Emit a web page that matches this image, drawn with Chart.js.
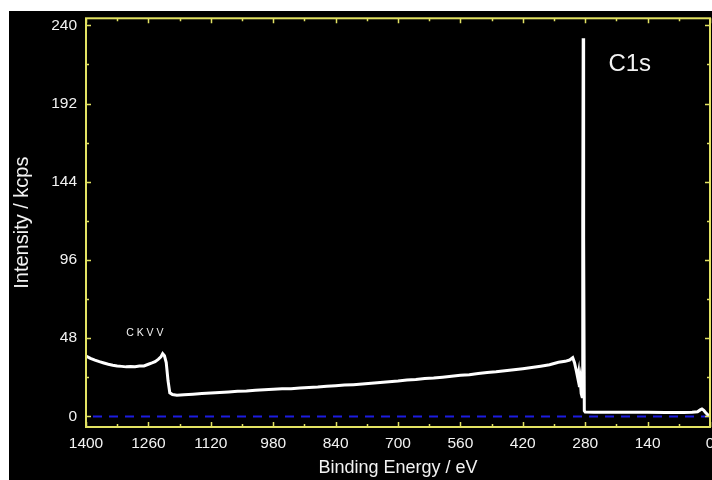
<!DOCTYPE html>
<html>
<head>
<meta charset="utf-8">
<script src="https://cdn.jsdelivr.net/npm/chart.js@4.4.1/dist/chart.umd.min.js"></script>
<style>
  html, body { margin: 0; padding: 0; background: #ffffff; overflow: hidden; width: 712px; height: 480px; }
  #frame { position: absolute; left: 9px; top: 11px; width: 760px; height: 480px; background: #000000; }
  #xps { position: absolute; left: 0; top: 0; }
</style>
</head>
<body>
<div id="frame"></div>
<canvas id="xps" width="740" height="480"></canvas>
<script>
// survey spectrum (binding energy in eV, intensity in kcps)
const energies = [
  1400, 1390, 1380, 1370, 1360, 1350, 1340, 1330, 1320, 1310,
  1300, 1290, 1280, 1270, 1260, 1252, 1245, 1238, 1232, 1228,
  1224, 1220, 1216, 1212, 1206, 1196, 1180, 1160, 1140, 1120,
  1100, 1080, 1060, 1040, 1020, 1000, 980, 960, 940, 920,
  900, 880, 860, 840, 820, 800, 780, 760, 740, 720,
  700, 680, 660, 640, 620, 600, 580, 560, 540, 520,
  500, 480, 460, 440, 420, 400, 380, 360, 340, 325,
  315, 308, 304, 300, 297, 295, 293, 291, 289, 287,
  285.5, 284.5, 283.5, 282, 280, 260, 220, 180, 140, 100,
  60, 40, 28, 22, 18, 14, 10, 5, 0
];
const counts = [
  37.0, 35.6, 34.5, 33.6, 32.8, 32.0, 31.4, 31.0, 30.7, 30.4,
  30.6, 30.5, 30.9, 31.0, 32.0, 32.8, 33.6, 35.0, 36.5, 38.5,
  37.2, 33.0, 22.0, 14.5, 13.4, 13.0, 13.3, 13.6, 14.0, 14.3,
  14.6, 15.0, 15.4, 15.6, 16.0, 16.3, 16.6, 16.9, 17.0, 17.4,
  17.8, 18.0, 18.5, 18.8, 19.2, 19.5, 19.9, 20.4, 20.8, 21.3,
  21.7, 22.3, 22.6, 23.2, 23.5, 24.1, 24.6, 25.2, 25.6, 26.3,
  27.0, 27.4, 28.0, 28.7, 29.3, 30.0, 30.8, 31.7, 33.2, 33.8,
  34.6, 36.0, 33.0, 28.0, 24.0, 27.0, 18.0, 22.0, 14.0, 12.0,
  120, 232, 110, 3.5, 2.7, 2.6, 2.6, 2.5, 2.5, 2.4,
  2.4, 2.5, 2.9, 4.0, 4.6, 3.8, 2.4, 1.0, 0.3
];

const xTicks = [1400, 1260, 1120, 980, 840, 700, 560, 420, 280, 140, 0];
const yTicks = [0, 48, 96, 144, 192, 240];
const zeroLine = [0, 0];
const zeroLineX = [0, 1400];

const peakLabels = ['C1s', 'C K V V'];
const peakLabelX = [180, 1268];
const peakLabelY = [216, 51];

const yellow = '#e2e262';
const textColor = '#f2f2f2';
const fontFamily = '"Liberation Sans", Arial, sans-serif';

// draws the yellow frame, inward ticks and the peak names
const framePlugin = {
  id: 'frame',
  afterDatasetsDraw(chart) {
    const { ctx, chartArea: a, scales } = chart;
    const xs = scales.x, ys = scales.y;
    ctx.save();
    ctx.strokeStyle = yellow;
    ctx.lineWidth = 2;
    ctx.strokeRect(a.left, a.top, a.right - a.left, a.bottom - a.top);

    const mids = (arr) => arr.slice(1).map((v, i) => (v + arr[i]) / 2);
    ctx.lineWidth = 1.5;
    ctx.beginPath();
    [[xTicks, 5], [mids(xTicks), 3]].forEach(([vals, len]) => {
      vals.forEach(v => {
        const px = Math.round(xs.getPixelForValue(v)) + 0.5;
        ctx.moveTo(px, a.bottom); ctx.lineTo(px, a.bottom - len);
        ctx.moveTo(px, a.top); ctx.lineTo(px, a.top + len);
      });
    });
    [[yTicks, 5], [mids(yTicks), 3]].forEach(([vals, len]) => {
      vals.forEach(v => {
        const py = Math.round(ys.getPixelForValue(v)) + 0.5;
        ctx.moveTo(a.left, py); ctx.lineTo(a.left + len, py);
        ctx.moveTo(a.right, py); ctx.lineTo(a.right - len, py);
      });
    });
    ctx.stroke();

    ctx.fillStyle = textColor;
    ctx.textAlign = 'center';
    ctx.textBaseline = 'middle';
    peakLabels.forEach((t, i) => {
      const big = i === 0;
      ctx.font = (big ? '24px ' : '10.5px ') + fontFamily;
      ctx.fillText(t, xs.getPixelForValue(peakLabelX[i]), ys.getPixelForValue(peakLabelY[i]));
    });
    ctx.restore();
  }
};

const ctx = document.getElementById('xps').getContext('2d');
new Chart(ctx, {
  type: 'line',
  data: {
    datasets: [
      {
        data: energies.map((e, i) => ({ x: e, y: counts[i] })),
        borderColor: '#ffffff',
        borderWidth: 3,
        pointRadius: 0,
        tension: 0,
      },
      {
        data: zeroLineX.map((e, i) => ({ x: e, y: zeroLine[i] })),
        borderColor: '#1c1ce0',
        borderWidth: 2,
        borderDash: [9, 7],
        pointRadius: 0,
      },
    ],
  },
  options: {
    responsive: false,
    animation: false,
    layout: { padding: { left: 10, top: 13, right: 30, bottom: 1 } },
    plugins: {
      legend: { display: false },
      tooltip: { enabled: false },
    },
    scales: {
      x: {
        type: 'linear',
        reverse: true,
        min: 0,
        max: 1400,
        grid: { display: false, drawTicks: false },
        border: { display: false },
        afterBuildTicks: (scale) => { scale.ticks = xTicks.map(v => ({ value: v })); },
        afterFit: (scale) => { scale.height = 52; },
        ticks: {
          color: textColor,
          padding: 7,
          maxRotation: 0,
          autoSkip: false,
          font: { family: fontFamily, size: 15.5 },
          callback: (v) => String(v),
        },
        title: {
          display: true,
          text: 'Binding Energy / eV',
          color: textColor,
          padding: 0,
          font: { family: fontFamily, size: 18 },
        },
      },
      y: {
        min: -6.5,
        max: 244.3,
        grid: { display: false, drawTicks: false },
        border: { display: false },
        afterBuildTicks: (scale) => { scale.ticks = yTicks.map(v => ({ value: v })); },
        afterFit: (scale) => { scale.width = 76; },
        ticks: {
          color: textColor,
          padding: 9,
          autoSkip: false,
          font: { family: fontFamily, size: 15.5 },
          callback: (v) => String(v),
        },
        title: {
          display: true,
          text: 'Intensity / kcps',
          color: textColor,
          padding: 0,
          font: { family: fontFamily, size: 20 },
        },
      },
    },
  },
  plugins: [framePlugin],
});
</script>
</body>
</html>
